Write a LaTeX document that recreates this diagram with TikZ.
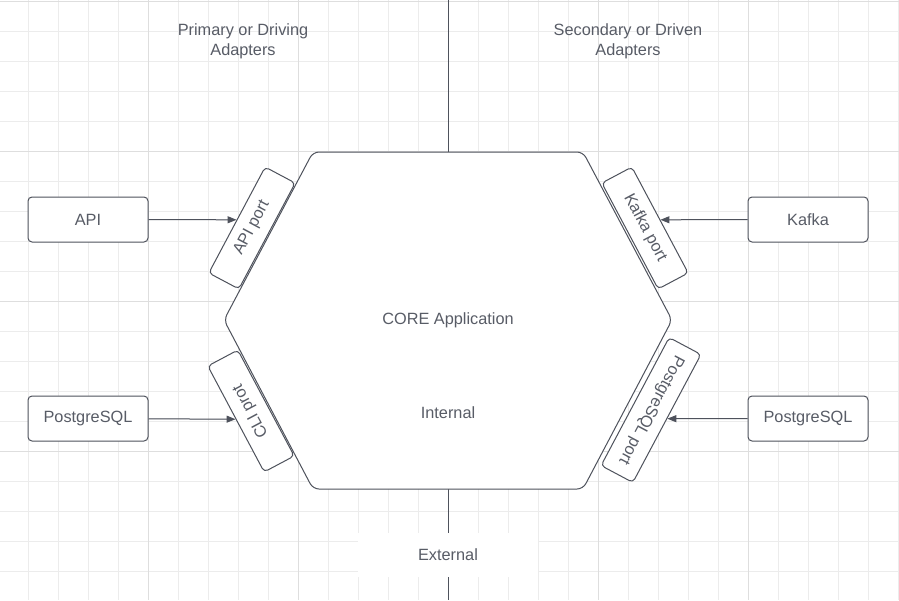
\documentclass[tikz,border=0pt]{standalone}
\usepackage{fontspec}
\setmainfont{Liberation Sans}
\usetikzlibrary{positioning}
\usetikzlibrary{calc}
\usetikzlibrary{arrows.meta}
\definecolor{linecol}{RGB}{78,82,92}
\definecolor{textcol}{RGB}{88,92,102}
\definecolor{gridminor}{RGB}{236,236,236}
\definecolor{gridmajor}{RGB}{222,222,222}
\begin{document}
\begin{tikzpicture}[x=1pt,y=-1pt,>={Triangle[length=9pt,width=7pt]}]
			\tikzset{vertex/.style = {shape=rectangle,rounded corners=4pt, line width=1pt, draw=linecol, fill=white, text=textcol, minimum width=120pt, minimum height=45pt, font=\fontsize{16.3}{20}\selectfont}}
			\tikzset{port/.style = {shape=rectangle,rounded corners=4pt, line width=1pt, draw=linecol, fill=white, text=textcol, minimum width=120pt, minimum height=34pt, inner sep=0pt, font=\fontsize{16.3}{20}\selectfont}}
			\tikzset{label/.style = {text=textcol, align=center, font=\fontsize{16.3}{20}\selectfont}}
			\tikzset{link/.style = {->, line width=1pt, draw=linecol, fill=linecol}}
			\useasboundingbox (0,0) rectangle (899,600);
			\fill[white] (0,0) rectangle (899,600);
			% grid
			\foreach \x in {28,58,...,898} \draw[gridminor, line width=1pt] (\x,0) -- (\x,600);
			\foreach \y in {1,31,...,600} \draw[gridminor, line width=1pt] (0,\y) -- (899,\y);
			\foreach \x in {148,298,598,748} \draw[gridmajor, line width=1pt] (\x,0) -- (\x,600);
			\foreach \y in {1,151,301,451} \draw[gridmajor, line width=1pt] (0,\y) -- (899,\y);
			% divider
			\draw[linecol, line width=1pt] (448,0) -- (448,600);
			\fill[white] (358,533) rectangle (538,577);
			\node[label] (EXT) at (448,555) {External};
			% core
			\draw[linecol, line width=1pt, fill=white, rounded corners=6pt]
				(313,152) -- (583,152) -- (672,320) -- (583,489) -- (313,489) -- (224,320) -- cycle;
			\node[label] (CORE) at (448,320) {CORE Application};
			\node[label] (INT) at (448,413) {Internal};
			\node[label] (PRIM) at (243,41) {Primary or Driving\\Adapters};
			\node[label] (SEC) at (628,41) {Secondary or Driven\\Adapters};
			% ports
			\node[port, rotate=62] (APIPORT) at (252,228) {API port};
			\node[port, rotate=-62] (KAFKAPORT) at (645,228) {Kafka port};
			\node[port, rotate=118] (CLIPORT) at (251,411) {CLI prot};
			\node[port, rotate=-118, minimum width=145pt, minimum height=36pt] (PGPORT) at (651,410) {PostgreSQL port};
			% adapters
			\node[vertex] (API) at (88,219.5) {API};
			\node[vertex] (KAFKA) at (808,219.5) {Kafka};
			\node[vertex] (PGIN) at (88,418.5) {PostgreSQL};
			\node[vertex] (PGOUT) at (808,418.5) {PostgreSQL};
			\draw[link] (API) -- (APIPORT.north);
			\draw[link] (KAFKA) -- (KAFKAPORT.north);
			\draw[link] (PGIN) -- (CLIPORT.north);
			\draw[link] (PGOUT) -- (PGPORT.north);
\end{tikzpicture}
\end{document}
